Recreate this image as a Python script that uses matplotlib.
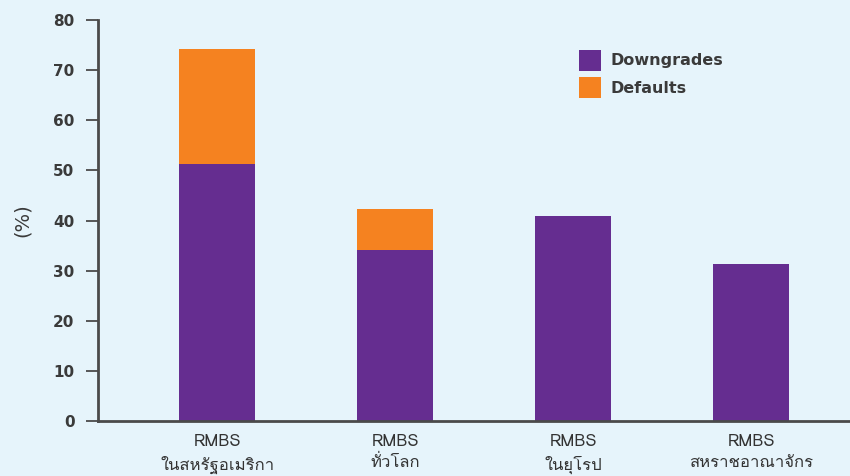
import matplotlib
matplotlib.use("Agg")
import matplotlib.pyplot as plt
from matplotlib import font_manager
from matplotlib.ft2font import FT2Font

categories = ["RMBS\nในสหรัฐอเมริกา", "RMBS\nทั่วโลก", "RMBS\nในยุโรป", "RMBS\nสหราชอาณาจักร"]
downgrades = [51.3, 34.1, 40.9, 31.3]
defaults = [22.9, 8.2, 0.0, 0.0]
yticks = [0, 10, 20, 30, 40, 50, 60, 70, 80]

# find a font covering Thai
thai_family = None
for f in font_manager.fontManager.ttflist:
    try:
        cm = FT2Font(f.fname).get_charmap()
        if 0x0E01 in cm and 0x0E31 in cm:
            thai_family = f.name
            break
    except Exception:
        pass
fams = ([thai_family] if thai_family else []) + ["DejaVu Sans"]

bg = "#E6F4FB"
purple = "#652D90"
orange = "#F58220"
dark = "#4A4A4A"

fig = plt.figure(figsize=(8.5, 4.76), dpi=100, facecolor=bg)
ax = fig.add_axes([0.1153, 0.1155, 0.8847, 0.8425], facecolor=bg)

x = list(range(len(categories)))
ax.bar(x, downgrades, width=0.43, color=purple, label="Downgrades", zorder=2)
ax.bar(x, defaults, width=0.43, bottom=downgrades, color=orange, label="Defaults", zorder=2)

ax.set_xlim(-0.669, 3.556)
ax.set_ylim(0, 80)
ax.set_yticks(yticks)
ax.set_yticklabels([str(v) for v in yticks], fontsize=11, fontweight="bold", color="#3A3A3A")
ax.set_xticks(x)
ax.set_xticklabels(categories, fontsize=12, color="#333333", family=fams, linespacing=1.45)
ax.tick_params(axis="y", length=9, width=1.3, color=dark, pad=8)
ax.tick_params(axis="x", length=0, pad=9)
for s in ["top", "right"]:
    ax.spines[s].set_visible(False)
for s in ["left", "bottom"]:
    ax.spines[s].set_color(dark)
    ax.spines[s].set_linewidth(2)
ax.spines["bottom"].set_zorder(3)

ax.set_ylabel("(%)", fontsize=14, color="#3A3A3A", labelpad=15)

leg = ax.legend(loc="upper left", bbox_to_anchor=(0.62, 0.962), frameon=False,
                prop={"size": 11.5, "weight": "bold"}, handlelength=1.4, handleheight=1.65,
                handletextpad=0.6, labelspacing=0.4)
for t in leg.get_texts():
    t.set_color("#3A3A3A")

fig.savefig("out.png", dpi=100, facecolor=bg)
